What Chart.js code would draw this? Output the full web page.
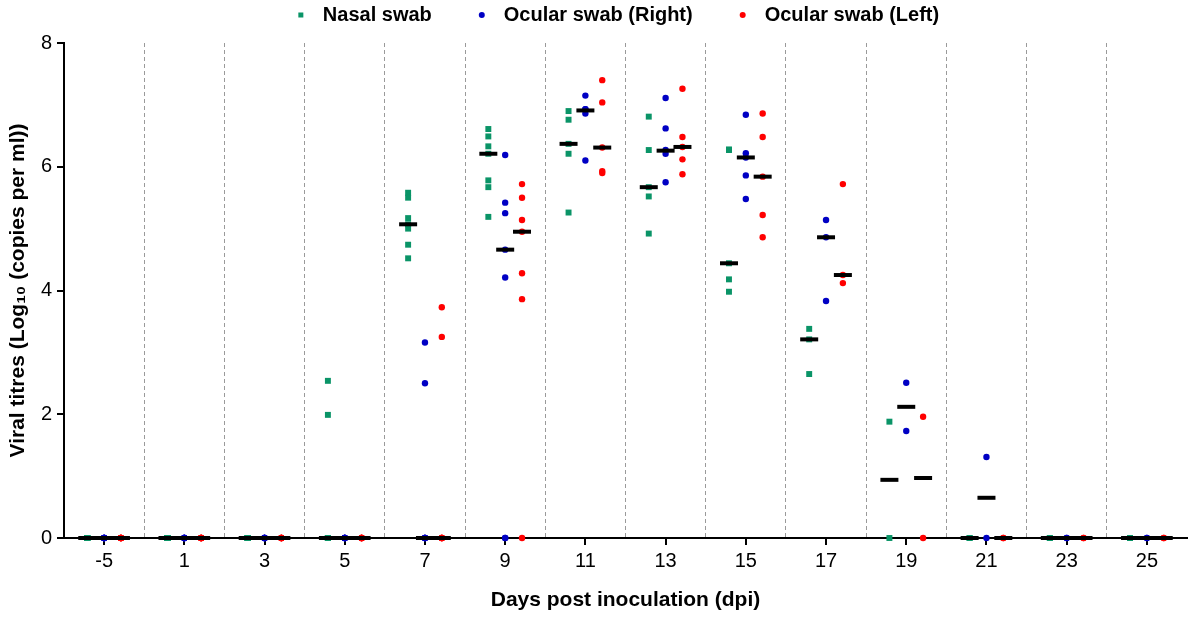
<!DOCTYPE html>
<html>
<head>
<meta charset="utf-8">
<script src="https://cdn.jsdelivr.net/npm/chart.js@4"></script>
<style>
  html, body { margin: 0; padding: 0; background: #fff; }
  #wrap { width: 1200px; height: 619px; }
</style>
</head>
<body>
<div id="wrap"><canvas id="my_chart" width="1200" height="619"></canvas></div>
<script>
// Days post inoculation (one group per day)
const days = ['-5', '1', '3', '5', '7', '9', '11', '13', '15', '17', '19', '21', '23', '25'];

// Viral titres per animal, one small list per day
const nasal = [
  [0, 0, 0, 0, 0, 0, 0],
  [0, 0, 0, 0, 0, 0, 0],
  [0, 0, 0, 0, 0, 0, 0],
  [2.54, 1.99, 0, 0, 0, 0, 0],
  [5.58, 5.50, 5.17, 5.07, 5.00, 4.74, 4.52],
  [6.61, 6.49, 6.33, 6.21, 5.78, 5.67, 5.19],
  [6.90, 6.76, 6.37, 6.21, 5.26],
  [6.81, 6.27, 5.67, 5.52, 4.92],
  [6.28, 6.27, 4.44, 4.18, 3.98],
  [3.38, 3.21, 2.65],
  [1.88, 0],
  [0, 0],
  [0, 0],
  [0, 0]
];
const ocularRight = [
  [0, 0, 0, 0, 0, 0, 0],
  [0, 0, 0, 0, 0, 0, 0],
  [0, 0, 0, 0, 0, 0, 0],
  [0, 0, 0, 0, 0, 0, 0],
  [3.16, 2.50, 0, 0, 0, 0, 0],
  [6.19, 5.42, 5.25, 4.66, 4.21, 0, 0],
  [7.15, 6.93, 6.93, 6.86, 6.10],
  [7.11, 6.62, 6.27, 6.21, 5.75],
  [6.84, 6.22, 6.15, 5.86, 5.48],
  [5.14, 4.86, 3.83],
  [2.51, 1.73],
  [1.31, 0],
  [0, 0],
  [0, 0]
];
const ocularLeft = [
  [0, 0, 0, 0, 0, 0, 0],
  [0, 0, 0, 0, 0, 0, 0],
  [0, 0, 0, 0, 0, 0, 0],
  [0, 0, 0, 0, 0, 0, 0],
  [3.73, 3.25, 0, 0, 0, 0, 0],
  [5.72, 5.50, 5.14, 4.95, 4.28, 3.86, 0],
  [7.40, 7.04, 6.31, 5.93, 5.90],
  [7.26, 6.48, 6.32, 6.12, 5.88],
  [6.86, 6.48, 5.84, 5.22, 4.86],
  [5.72, 4.25, 4.12],
  [1.96, 0],
  [0, 0],
  [0, 0],
  [0, 0]
];

// Median bars
const nasalMedian = [0, 0, 0, 0, 5.07, 6.21, 6.37, 5.67, 4.44, 3.21, 0.94, 0, 0, 0];
const rightMedian = [0, 0, 0, 0, 0, 4.66, 6.91, 6.26, 6.15, 4.86, 2.12, 0.65, 0, 0];
const leftMedian = [0, 0, 0, 0, 0, 4.95, 6.31, 6.32, 5.84, 4.25, 0.97, 0, 0, 0];

const yTicks = [0, 2, 4, 6, 8];

// each series sits a bit left / centre / right inside its day group
const shift = 0.21;

function toPoints(groups, off) {
  let pts = [];
  groups.forEach((vals, i) => {
    vals.forEach(v => pts.push({x: i + off, y: v}));
  });
  return pts;
}

function toMedian(meds, off) {
  return meds.map((v, i) => ({x: i + off, y: v}));
}

const fontFam = "'Liberation Sans', Arial, sans-serif";
const green = '#0a9467';
const blue = '#0000c4';
const red = '#ff0000';

function medianSet(meds, off) {
  return {
    label: 'median',
    data: toMedian(meds, off),
    pointStyle: 'line',
    radius: 9,
    hoverRadius: 9,
    borderWidth: 4,
    borderColor: '#000',
    backgroundColor: '#000',
    clip: false,
    order: 0
  };
}

// legend drawn by hand so the spacing can match the figure
const topLegend = {
  id: 'topLegend',
  afterDraw(chart) {
    const ctx = chart.ctx;
    const sets = chart.data.datasets.filter(d => d.label !== 'median');
    const markGap = 22, itemGap = 50, y = 15;
    ctx.save();
    ctx.font = 'bold 20px ' + fontFam;
    ctx.textBaseline = 'middle';
    ctx.textAlign = 'left';
    const widths = sets.map(d => ctx.measureText(d.label).width);
    const total = widths.reduce((a, b) => a + b, 0) + sets.length * markGap + (sets.length - 1) * itemGap;
    let x = 620 - total / 2;
    sets.forEach((d, i) => {
      ctx.fillStyle = d.backgroundColor;
      if (d.pointStyle === 'rect') {
        ctx.fillRect(x - 2.5, y - 2.5, 5, 5);
      } else {
        ctx.beginPath();
        ctx.arc(x, y, 3, 0, Math.PI * 2);
        ctx.fill();
      }
      ctx.fillStyle = '#000';
      ctx.fillText(d.label, x + markGap, y);
      x += markGap + widths[i] + itemGap;
    });
    ctx.restore();
  }
};

const myChart = document.getElementById('my_chart');

let scatterChart = new Chart(myChart, {
  type: 'scatter',
  data: {
    datasets: [
      {
        label: 'Nasal swab',
        data: toPoints(nasal, -shift),
        pointStyle: 'rect',
        radius: 4.2,
        borderWidth: 0,
        backgroundColor: green,
        borderColor: green,
        clip: false,
        order: 1
      },
      {
        label: 'Ocular swab (Right)',
        data: toPoints(ocularRight, 0),
        pointStyle: 'circle',
        radius: 3.2,
        borderWidth: 0,
        backgroundColor: blue,
        borderColor: blue,
        clip: false,
        order: 1
      },
      {
        label: 'Ocular swab (Left)',
        data: toPoints(ocularLeft, shift),
        pointStyle: 'circle',
        radius: 3.2,
        borderWidth: 0,
        backgroundColor: red,
        borderColor: red,
        clip: false,
        order: 1
      },
      medianSet(nasalMedian, -shift),
      medianSet(rightMedian, 0),
      medianSet(leftMedian, shift)
    ]
  },
  plugins: [topLegend],
  options: {
    responsive: false,
    animation: false,
    layout: {padding: {left: 6, right: 8, top: 43, bottom: 6}},
    plugins: {
      tooltip: {enabled: false},
      legend: {display: false}
    },
    scales: {
      x: {
        type: 'linear',
        position: 'bottom',
        min: -0.5,
        max: 13.5,
        afterBuildTicks: axis => {
          axis.ticks = days.map((d, i) => ({value: i}));
        },
        afterFit: scale => { scale.height = 75; },
        ticks: {
          color: '#000',
          padding: 4,
          font: {family: fontFam, size: 20},
          callback: v => days[v]
        },
        grid: {drawOnChartArea: false, drawTicks: true, tickLength: 7, color: '#000', lineWidth: 2},
        border: {color: '#000', width: 2},
        title: {
          display: true,
          text: 'Days post inoculation (dpi)',
          color: '#000',
          font: {family: fontFam, size: 21, weight: 'bold'},
          padding: {top: 6, bottom: 0}
        }
      },
      // dashed separators between the day groups
      xg: {
        type: 'linear',
        position: 'top',
        min: -0.5,
        max: 13.5,
        afterBuildTicks: axis => {
          axis.ticks = days.slice(1).map((d, i) => ({value: i + 0.5}));
        },
        afterFit: scale => { scale.height = 0; },
        ticks: {display: false},
        grid: {drawTicks: false, color: '#9a9a9a', lineWidth: 1},
        border: {display: false, dash: [4, 3]}
      },
      y: {
        min: 0,
        max: 8,
        afterBuildTicks: axis => {
          axis.ticks = yTicks.map(v => ({value: v}));
        },
        afterFit: scale => { scale.width = 58; },
        ticks: {
          color: '#000',
          padding: 5,
          font: {family: fontFam, size: 20}
        },
        grid: {drawOnChartArea: false, drawTicks: true, tickLength: 7, color: '#000', lineWidth: 2},
        border: {color: '#000', width: 2},
        title: {
          display: true,
          text: 'Viral titres (Log\u2081\u2080 (copies per ml))',
          color: '#000',
          font: {family: fontFam, size: 21, weight: 'bold'},
          padding: {top: 0, bottom: 2}
        }
      }
    }
  }
});
</script>
</body>
</html>
